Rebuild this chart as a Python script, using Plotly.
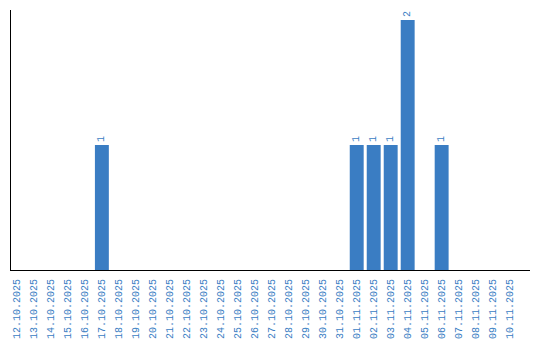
import plotly.graph_objects as go

dates = ["12.10.2025", "13.10.2025", "14.10.2025", "15.10.2025", "16.10.2025",
         "17.10.2025", "18.10.2025", "19.10.2025", "20.10.2025", "21.10.2025",
         "22.10.2025", "23.10.2025", "24.10.2025", "25.10.2025", "26.10.2025",
         "27.10.2025", "28.10.2025", "29.10.2025", "30.10.2025", "31.10.2025",
         "01.11.2025", "02.11.2025", "03.11.2025", "04.11.2025", "05.11.2025",
         "06.11.2025", "07.11.2025", "08.11.2025", "09.11.2025", "10.11.2025"]
counts = [0, 0, 0, 0, 0, 1, 0, 0, 0, 0,
          0, 0, 0, 0, 0, 0, 0, 0, 0, 0,
          1, 1, 1, 2, 0, 1, 0, 0, 0, 0]

blue = "#3a7dc3"
labels = [str(v) if v else "" for v in counts]
fnt = "Liberation Mono"

fig = go.Figure(go.Bar(
    x=dates, y=counts, marker=dict(color=blue, line=dict(width=0)),
    text=labels, textposition="outside", textangle=-90,
    textfont=dict(family=fnt, size=10, color=blue),
    cliponaxis=False,
))
fig.update_layout(
    width=540, height=340,
    margin=dict(l=11, r=10, t=10, b=70),
    paper_bgcolor="white", plot_bgcolor="white",
    bargap=0.18, showlegend=False,
    font=dict(family=fnt, size=10, color=blue),
)
fig.update_xaxes(
    type="category", range=[-0.35, 30.2], tickangle=-90, automargin=False,
    ticklabelstandoff=4,
    showline=True, linecolor="black", linewidth=1,
    showgrid=False, ticks="", tickfont=dict(family=fnt, size=10, color=blue),
)
fig.update_yaxes(
    range=[0, 2.08], showline=True, linecolor="black", linewidth=1, automargin=False,
    showgrid=False, zeroline=False, showticklabels=False, ticks="",
)
fig.write_html("out.html")
